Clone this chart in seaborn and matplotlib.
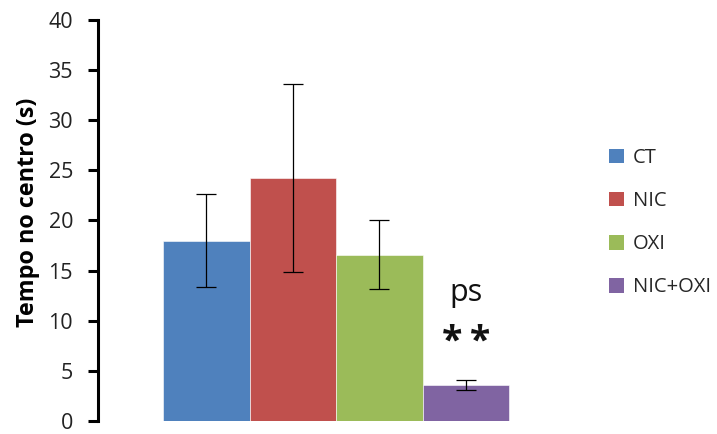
import matplotlib
matplotlib.use("Agg")
import matplotlib.pyplot as plt
import seaborn as sns
import pandas as pd
from matplotlib.patches import Patch

groups = ["CT", "NIC", "OXI", "NIC+OXI"]
means = [18.0, 24.25, 16.6, 3.6]
errors = [4.65, 9.35, 3.4, 0.52]
colors = ["#4F81BD", "#C0504D", "#9BBB59", "#8064A2"]
y_ticks = [0, 5, 10, 15, 20, 25, 30, 35, 40]

sns.set_theme(style="white")
plt.rcParams["font.family"] = ["Open Sans", "DejaVu Sans"]

df = pd.DataFrame({"x": [""] * len(groups), "grupo": groups, "tempo": means})

fig = plt.figure(figsize=(7.17, 4.34), dpi=100)
ax = fig.add_axes([0.1367, 0.03, 0.664, 0.924])

sns.barplot(data=df, x="x", y="tempo", hue="grupo", hue_order=groups,
            palette=colors, width=0.727, gap=0, errorbar=None,
            saturation=1, legend=False, ax=ax, edgecolor="white", linewidth=0.4)

# error bars centred on each bar
bars = [p for p in ax.patches if p.get_height() > 0]
bars.sort(key=lambda p: p.get_x())
for bar, m, e in zip(bars, means, errors):
    cx = bar.get_x() + bar.get_width() / 2
    ax.errorbar(cx, m, yerr=e, fmt="none", ecolor="black",
                elinewidth=0.9, capsize=7, capthick=0.9)

# significance annotation over NIC+OXI
last = bars[-1]
cx = last.get_x() + last.get_width() / 2
ax.text(cx, 12.8, "ps", ha="center", va="center", fontsize=22, color="#111111")
ax.text(cx, 6.75, "*\u2009*", ha="center", va="baseline", fontsize=27,
        fontweight="bold", color="#111111")

ax.set_xlim(-0.5, 0.5)
ax.set_ylim(0, 40)
ax.set_yticks(y_ticks)
ax.set_yticklabels([str(t) for t in y_ticks], fontsize=15.5, color="#222222")
ax.set_xticks([])
ax.set_xlabel("")
ax.set_ylabel("Tempo no centro (s)", fontsize=16.8, fontweight="bold",
              color="black")
ax.yaxis.set_label_coords(-0.122, 0.52)

for side in ["top", "right", "bottom"]:
    ax.spines[side].set_visible(False)
ax.spines["left"].set_color("black")
ax.spines["left"].set_linewidth(2.2)
ax.tick_params(axis="y", which="major", direction="out", length=7,
               width=2.2, color="black", left=True, pad=11)

handles = [Patch(facecolor=c, edgecolor="none") for c in colors]
fig.legend(handles, groups, loc="center left", bbox_to_anchor=(0.824, 0.487),
           frameon=False, fontsize=14.5, handlelength=0.75, handleheight=0.75,
           handletextpad=0.45, labelspacing=1.15)

fig.savefig("out.png", dpi=100)
